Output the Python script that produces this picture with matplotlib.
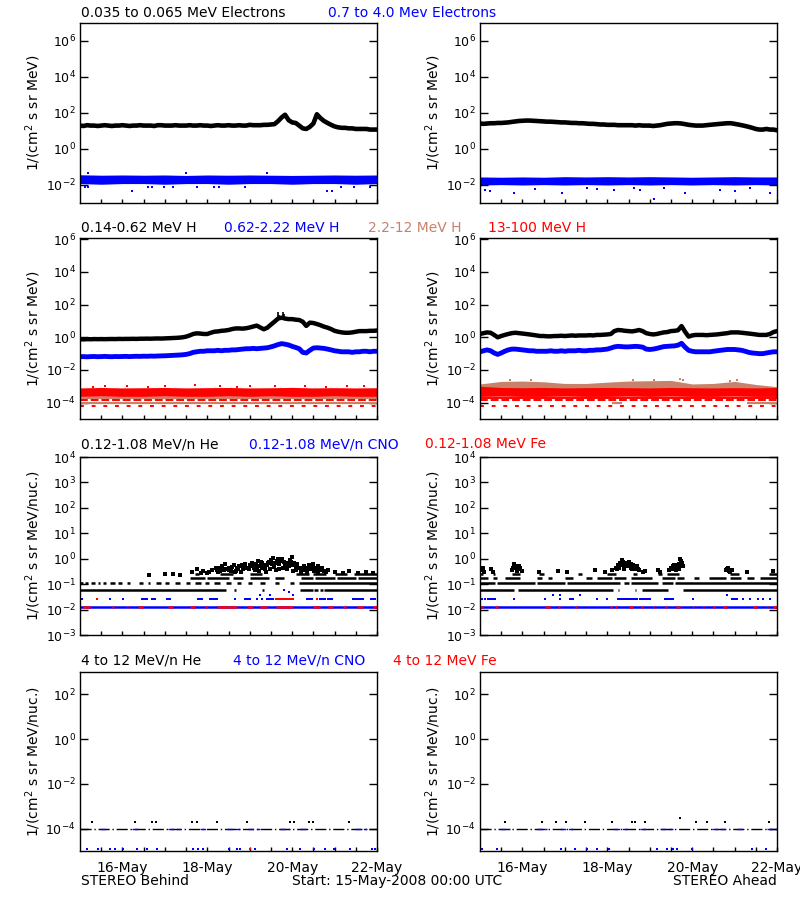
import matplotlib
matplotlib.use("Agg")
import matplotlib.pyplot as plt
from matplotlib.ticker import FixedLocator, FixedFormatter, NullLocator

plt.rcParams['font.family'] = ['DejaVu Sans']
plt.rcParams['mathtext.fontset'] = 'dejavusans'

BLACK = '#000000'
BLUE = '#0000ff'
RED = '#ff0000'
TAN = '#c8826a'

# ---------------- time grids (hours after 15-May-2008 00:00 UTC) ----------------
hours_2h = list(range(0, 169, 2))     # 85 samples
hours_12h = list(range(0, 169, 12))   # 15 samples

# x axis
x_tick_days = [1, 3, 5, 7]
x_tick_labels = ['16-May', '18-May', '20-May', '22-May']
x_minor_days = [0.5 * k for k in range(1, 15)]

# ---------------- Row 1 : electrons ----------------
beh_e_low = [20, 19, 21, 20, 20, 19, 20, 21, 20, 19,
             20, 20, 21, 20, 19, 20, 20, 21, 20, 20,
             20, 19, 21, 21, 20, 20, 20, 21, 20, 20,
             20, 21, 20, 20, 21, 20, 20, 19, 20, 21,
             20, 20, 21, 20, 20, 21, 20, 20, 22, 21,
             21, 21, 22, 22, 23,
             24, 35, 56, 80, 40, 30, 28, 20, 14, 13,
             17, 26, 85, 52, 36, 28, 22, 18, 16, 15,
             15, 14, 14, 13, 13, 13, 13, 12, 12, 12]
ahd_e_low = [26, 25, 26, 27, 27, 28,
             28, 29, 30, 32, 34, 36,
             37, 38, 38, 37, 36, 35,
             34, 33, 33, 32, 31, 30,
             30, 29, 28, 28, 27, 27,
             26, 25, 25, 24, 23, 23,
             22, 22, 22, 21, 21, 21,
             21, 21, 20, 21, 20, 20,
             20, 19, 20, 21, 23, 25,
             26, 27, 27, 26, 24, 22,
             21, 20, 20, 20, 21, 22,
             23, 24, 25, 26, 27, 27,
             25, 23, 21, 19, 17, 15,
             13, 12, 12, 13, 12, 12,
             11]
beh_e_high_lo = [0.012, 0.011, 0.012, 0.012, 0.011, 0.012, 0.012, 0.011,
                 0.012, 0.012, 0.011, 0.012, 0.012, 0.011, 0.012]
beh_e_high_hi = [0.037, 0.035, 0.036, 0.035, 0.036, 0.034, 0.036, 0.035,
                 0.036, 0.035, 0.034, 0.035, 0.036, 0.035, 0.036]
ahd_e_high_lo = [0.010, 0.0105, 0.010, 0.0105, 0.010, 0.0105, 0.010, 0.0105,
                 0.010, 0.0105, 0.010, 0.0105, 0.010, 0.0105, 0.010]
ahd_e_high_hi = [0.028, 0.027, 0.028, 0.027, 0.029, 0.028, 0.029, 0.028,
                 0.029, 0.028, 0.027, 0.028, 0.029, 0.028, 0.028]
beh_e_high_out_t = [0.12, 0.2, 1.22, 1.61, 1.69, 1.97, 2.2, 2.75, 3.15, 3.27,
                    3.89, 5.82, 5.94, 6.14, 6.45, 6.84, 0.18, 2.5, 4.4]
beh_e_high_out_v = [0.0078, 0.0078, 0.0045, 0.0078, 0.0078, 0.0078, 0.0078,
                    0.0078, 0.0078, 0.0078, 0.0078, 0.0045, 0.0045, 0.0078,
                    0.0078, 0.0078, 0.047, 0.045, 0.044]
ahd_e_high_out_t = [0.12, 0.24, 0.79, 1.3, 1.93, 2.52, 2.75, 3.15, 3.62, 3.78,
                    4.09, 4.33, 4.84, 5.66, 6.02, 6.84, 6.37]
ahd_e_high_out_v = [0.005, 0.0045, 0.0036, 0.0058, 0.0036, 0.0068, 0.0058,
                    0.0055, 0.0068, 0.0055, 0.0017, 0.0068, 0.0036, 0.005,
                    0.0045, 0.0036, 0.0068]

# ---------------- Row 2 : protons ----------------
beh_h1 = [0.76, 0.75, 0.77, 0.76, 0.78, 0.77,
          0.78, 0.77, 0.78, 0.79, 0.78, 0.80,
          0.79, 0.80, 0.80, 0.81, 0.80, 0.82,
          0.82, 0.83, 0.82, 0.84, 0.85, 0.84,
          0.86, 0.88, 0.90, 0.92, 0.95, 1.0,
          1.1, 1.3, 1.6, 1.75, 1.7, 1.6,
          1.6, 1.9, 2.2, 2.3, 2.5, 2.6,
          2.8, 3.2, 3.5, 3.5, 3.4, 3.6,
          4.0, 4.6, 5.2, 4.0, 3.1, 3.9,
          6.0, 9.0, 14, 16, 14, 13,
          13, 12, 11.5, 9, 5, 7.9,
          7.5, 6.5, 5.5, 4.5, 3.9, 3.2,
          2.5, 2.2, 2.0, 1.9, 1.9, 2.0,
          2.2, 2.4, 2.4, 2.4, 2.5, 2.5,
          2.6]
beh_h1_spike_t = [4.66, 4.70, 4.79, 4.81]
beh_h1_spike_base = [12, 12, 14, 14]
beh_h1_spike_top = [35, 22, 38, 25]
beh_h2 = [0.065, 0.066, 0.064, 0.066, 0.067, 0.065,
          0.066, 0.068, 0.066, 0.065, 0.067, 0.066,
          0.067, 0.068, 0.066, 0.068, 0.069, 0.068,
          0.070, 0.069, 0.071, 0.070, 0.072, 0.073,
          0.074, 0.076, 0.078, 0.080, 0.082, 0.085,
          0.09, 0.10, 0.12, 0.13, 0.14, 0.14,
          0.15, 0.15, 0.15, 0.16, 0.15, 0.16,
          0.16, 0.17, 0.17, 0.18, 0.19, 0.20,
          0.20, 0.21, 0.20, 0.21, 0.22, 0.23,
          0.26, 0.30, 0.36, 0.41, 0.38, 0.34,
          0.28, 0.24, 0.20, 0.12, 0.11, 0.16,
          0.22, 0.23, 0.22, 0.21, 0.19, 0.17,
          0.15, 0.14, 0.13, 0.13, 0.13, 0.12,
          0.13, 0.13, 0.14, 0.14, 0.13, 0.14,
          0.14]
beh_h4_lo = [2.4e-4, 2.5e-4, 2.4e-4, 2.4e-4, 2.5e-4, 2.4e-4, 2.4e-4, 2.5e-4,
             2.4e-4, 2.5e-4, 2.4e-4, 2.4e-4, 2.5e-4, 2.4e-4, 2.4e-4]
beh_h4_hi = [8.0e-4, 8.5e-4, 8.0e-4, 8.2e-4, 8.5e-4, 8.0e-4, 8.3e-4, 8.5e-4,
             8.0e-4, 8.2e-4, 8.6e-4, 8.0e-4, 8.3e-4, 8.0e-4, 8.2e-4]
beh_h4_out_t = [0.6, 1.1, 2.0, 2.7, 3.3, 4.0, 4.6, 5.3, 6.3, 6.7, 0.3, 1.6, 3.7, 5.8]
beh_h4_out_v = [1.05e-3, 1.0e-3, 1.1e-3, 1.2e-3, 1.0e-3, 1.05e-3, 1.1e-3,
                1.0e-3, 1.05e-3, 1.0e-3, 9.5e-4, 9.5e-4, 9.5e-4, 9.5e-4]
beh_h3_levels = [1.9e-4, 9.5e-5]
beh_h4_levels = [1.4e-4, 6.6e-5]

ahd_h1 = [1.6, 1.8, 2.0, 1.9, 1.4, 1.0,
          1.2, 1.4, 1.6, 1.8, 1.9, 1.8,
          1.7, 1.6, 1.5, 1.4, 1.3, 1.2,
          1.2, 1.15, 1.15, 1.2, 1.2, 1.25,
          1.2, 1.25, 1.3, 1.25, 1.3, 1.3,
          1.3, 1.35, 1.3, 1.4, 1.4, 1.45,
          1.5, 1.6, 2.4, 2.8, 2.7, 2.5,
          2.4, 2.3, 2.5, 2.8, 2.4, 1.8,
          1.6, 1.5, 1.6, 1.8, 2.0, 2.1,
          2.4, 2.5, 2.7, 4.9, 2.2, 1.1,
          1.3, 1.4, 1.4, 1.4, 1.35, 1.4,
          1.45, 1.5, 1.6, 1.7, 1.8, 2.0,
          2.0, 2.0, 1.9, 1.8, 1.7, 1.6,
          1.5, 1.4, 1.4, 1.4, 1.6, 2.1,
          2.4]
ahd_h2 = [0.13, 0.15, 0.17, 0.15, 0.11, 0.09,
          0.11, 0.14, 0.17, 0.19, 0.19, 0.18,
          0.17, 0.16, 0.15, 0.15, 0.14, 0.14,
          0.14, 0.14, 0.15, 0.14, 0.14, 0.15,
          0.14, 0.15, 0.15, 0.15, 0.16, 0.15,
          0.15, 0.16, 0.16, 0.17, 0.17, 0.18,
          0.19, 0.22, 0.26, 0.28, 0.27, 0.26,
          0.26, 0.27, 0.28, 0.27, 0.25, 0.19,
          0.18, 0.19, 0.21, 0.24, 0.27, 0.28,
          0.29, 0.30, 0.33, 0.43, 0.25, 0.16,
          0.14, 0.13, 0.13, 0.13, 0.13, 0.13,
          0.14, 0.15, 0.16, 0.17, 0.18, 0.18,
          0.18, 0.17, 0.16, 0.14, 0.12, 0.11,
          0.105, 0.10, 0.10, 0.11, 0.12, 0.13,
          0.13]
ahd_h3_lo = [5e-4] * 15
ahd_h3_hi = [1.4e-3, 2.0e-3, 2.1e-3, 1.9e-3, 1.5e-3, 1.5e-3, 1.8e-3, 2.1e-3,
             2.2e-3, 2.3e-3, 1.4e-3, 1.5e-3, 2.0e-3, 1.3e-3, 9.5e-4]
ahd_h3_out_t = [0.7, 1.2, 3.6, 4.1, 4.72, 4.78, 5.9, 6.05]
ahd_h3_out_v = [2.3e-3, 2.4e-3, 2.4e-3, 2.5e-3, 2.8e-3, 2.6e-3, 2.2e-3, 2.3e-3]
ahd_h4_lo = [2.4e-4, 2.5e-4, 2.4e-4, 2.4e-4, 2.5e-4, 2.4e-4, 2.4e-4, 2.5e-4,
             2.4e-4, 2.5e-4, 2.4e-4, 2.4e-4, 2.5e-4, 2.4e-4, 2.4e-4]
ahd_h4_hi = [1.0e-3, 8.5e-4, 8.2e-4, 8.5e-4, 8.0e-4, 8.3e-4, 8.5e-4, 8.2e-4,
             8.0e-4, 8.5e-4, 8.2e-4, 8.0e-4, 8.3e-4, 8.0e-4, 8.5e-4]
ahd_h3_levels = [9.5e-5]
ahd_h3_level_spans = [(3.1, 3.35), (6.3, 7.0)]
ahd_h4_levels = [1.9e-4, 1.4e-4, 6.6e-5]

# ---------------- Row 3 : 0.12-1.08 MeV/n ions ----------------
he_levels = [0.058, 0.107, 0.17, 0.24]
beh_he_segments = [
    [(0, 3.43), (3.63, 3.67), (4.3, 4.34), (5.18, 5.48), (5.52, 5.62), (5.66, 5.72), (5.76, 7.0)],
    [(0, 0.08), (0.12, 0.2), (0.25, 0.36), (0.42, 0.48), (0.55, 0.62), (0.7, 0.82), (0.9, 0.98),
     (1.1, 1.18), (1.4, 1.48), (1.6, 1.66), (1.78, 1.9), (2.0, 2.1), (2.25, 2.35), (2.5, 2.6),
     (2.7, 2.85), (2.95, 3.05), (3.15, 3.3), (3.45, 3.55), (3.7, 3.8), (3.95, 4.05), (4.25, 4.35),
     (4.6, 4.7), (4.95, 5.05), (5.15, 7.0)],
    [(2.6, 2.95), (3.0, 3.5), (3.6, 3.85), (4.0, 4.45), (4.6, 4.8), (5.2, 5.5), (5.55, 6.0),
     (6.05, 6.5), (6.55, 7.0)],
    [(1.6, 1.65), (1.95, 2.0), (2.3, 2.35), (2.7, 2.8), (3.3, 3.6), (4.0, 4.3), (5.1, 5.4),
     (5.5, 5.8), (6.0, 6.3), (6.45, 7.0)],
]
ahd_he_segments = [
    [(0, 0.79), (0.9, 3.14), (3.26, 3.28), (3.65, 3.67), (3.81, 4.44), (4.79, 7.0)],
    [(0, 0.35), (0.4, 1.3), (1.35, 2.0), (2.05, 3.3), (3.4, 3.5), (3.55, 4.2), (4.3, 4.55), (4.6, 7.0)],
    [(0, 0.2), (0.3, 0.4), (0.6, 0.95), (1.35, 1.45), (1.6, 1.7), (2.0, 2.2), (2.5, 2.65),
     (2.75, 3.1), (3.15, 3.45), (3.55, 4.05), (4.3, 4.6), (4.65, 4.8), (5.05, 5.15), (5.4, 5.8),
     (5.9, 6.15), (6.3, 6.45), (6.6, 7.0)],
    [(0, 0.08), (0.3, 0.35), (0.75, 0.95), (1.4, 1.5), (2.3, 2.4), (3.0, 3.2), (3.6, 3.7),
     (4.2, 4.3), (4.4, 4.7), (5.9, 6.1), (6.8, 7.0)],
]
beh_he_scatter_t = [1.62, 2.0, 2.2, 2.35, 2.65, 2.75, 2.9, 3.0, 3.1,
                    3.2, 3.25, 3.35, 3.4, 3.5, 3.55, 3.62, 3.7, 3.75, 3.85, 3.9,
                    4.0, 4.05, 4.1, 4.15, 4.2, 4.25, 4.3, 4.35, 4.4, 4.45, 4.5, 4.55, 4.6, 4.65, 4.7,
                    4.75, 4.8, 4.85, 4.9, 4.95, 5.0, 5.05, 5.1, 5.15, 5.25, 5.3,
                    5.4, 5.45, 5.5, 5.55, 5.6, 5.65, 5.7, 5.8, 5.85,
                    6.0, 6.2, 6.35, 6.55, 6.75, 6.9,
                    3.3, 3.45, 3.8, 3.95, 4.12, 4.28, 4.38, 4.48, 4.58, 4.68, 4.78, 4.88, 4.98,
                    5.08, 5.2, 5.35, 5.52, 5.62, 3.05, 2.85, 3.65, 4.22, 4.62, 5.02,
                    3.22, 3.28, 3.36, 3.42, 3.52, 3.58, 3.68, 3.72, 3.82, 3.88,
                    3.98, 4.02, 4.08, 4.18, 4.26, 4.32, 4.42, 4.52, 4.57, 4.66,
                    4.72, 4.82, 4.92, 4.97, 5.07, 5.12, 5.22, 5.28, 5.38, 5.42,
                    5.48, 5.58, 5.68, 5.75]
beh_he_scatter_v = [0.22, 0.24, 0.24, 0.22, 0.30, 0.38, 0.32, 0.28, 0.35,
                    0.42, 0.30, 0.50, 0.35, 0.45, 0.32, 0.55, 0.40, 0.50, 0.38, 0.60,
                    0.55, 0.70, 0.45, 0.60, 0.80, 0.50, 0.65, 0.40, 0.55, 0.75, 0.90, 1.10, 0.70, 0.85, 0.60,
                    1.00, 0.75, 0.55, 0.65, 0.90, 1.20, 0.70, 0.50, 0.45, 0.35, 0.40,
                    0.55, 0.45, 0.60, 0.40, 0.50, 0.35, 0.45, 0.30, 0.35,
                    0.30, 0.28, 0.32, 0.28, 0.30, 0.28,
                    0.33, 0.40, 0.30, 0.42, 0.35, 0.42, 0.30, 0.38, 0.48, 0.40, 0.45, 0.38, 0.55,
                    0.36, 0.30, 0.30, 0.32, 0.30, 0.30, 0.28, 0.30, 0.33, 0.36, 0.33,
                    0.36, 0.45, 0.38, 0.62, 0.36, 0.48, 0.33, 0.42, 0.55, 0.45,
                    0.38, 0.50, 0.62, 0.48, 0.72, 0.55, 0.65, 0.60, 0.48, 0.95,
                    0.80, 0.62, 0.50, 0.75, 0.55, 0.62, 0.45, 0.50, 0.42, 0.38,
                    0.50, 0.42, 0.38, 0.33]
ahd_he_scatter_t = [0.03, 0.06, 0.1, 0.25, 0.3,
                    0.75, 0.8, 0.82, 0.85, 0.9, 0.95, 1.0,
                    1.4, 1.85, 2.05, 2.7, 2.95,
                    3.1, 3.2, 3.25, 3.3, 3.35, 3.38, 3.42, 3.45, 3.5, 3.55, 3.6, 3.65, 3.7, 3.75, 3.85, 3.9,
                    4.2, 4.25, 4.45, 4.5, 4.55, 4.6, 4.65, 4.7, 4.72, 4.75, 4.78,
                    5.8, 5.85, 5.9, 5.95, 6.3, 6.9,
                    3.28, 3.4, 3.48, 3.58, 3.68, 4.62, 4.68, 0.88,
                    3.22, 3.27, 3.32, 3.36, 3.44, 3.52, 3.57, 3.63, 3.72, 4.52,
                    4.58, 4.64, 4.7, 4.74, 4.76, 0.78, 0.92, 5.82, 5.88]
ahd_he_scatter_v = [0.35, 0.42, 0.30, 0.38, 0.30,
                    0.35, 0.60, 0.45, 0.50, 0.38, 0.42, 0.32,
                    0.30, 0.32, 0.30, 0.35, 0.30,
                    0.35, 0.42, 0.55, 0.70, 0.90, 0.60, 0.50, 0.65, 0.75, 0.45, 0.55, 0.40, 0.50, 0.35, 0.30, 0.32,
                    0.35, 0.30, 0.35, 0.42, 0.50, 0.40, 0.55, 0.45, 0.95, 0.70, 0.50,
                    0.35, 0.42, 0.30, 0.35, 0.30, 0.32,
                    0.45, 0.40, 0.55, 0.38, 0.42, 0.35, 0.40, 0.33,
                    0.38, 0.48, 0.55, 0.75, 0.58, 0.52, 0.62, 0.45, 0.40, 0.38,
                    0.55, 0.48, 0.62, 0.80, 0.55, 0.45, 0.50, 0.38, 0.33]
ion_floor = 0.0123
beh_cno_t = [0.04, 0.71, 1.02, 1.45, 1.49, 1.53, 1.57, 1.69, 1.73, 1.77, 2.04, 2.08, 2.12,
             2.79, 2.83, 2.87, 3.06, 3.1, 3.14, 3.18, 3.22, 3.65, 3.89, 3.93, 3.97, 4.0,
             4.16, 4.28, 4.4, 4.44, 4.48, 4.52, 4.56, 4.71, 4.75, 4.79, 4.83, 5.34, 5.38,
             5.42, 5.46, 5.66, 5.7, 5.74, 5.77, 5.85, 5.89, 5.93, 6.44, 6.48, 6.52, 6.56,
             6.6, 6.64, 6.68, 6.87, 6.91, 6.95, 4.24, 4.48, 5.03, 4.81, 4.93]
beh_cno_v = [0.026] * 58 + [0.038, 0.038, 0.038, 0.06, 0.05]
beh_fe_t = [0.39, 4.63, 4.67, 4.71, 4.75, 4.79, 4.83, 4.87, 4.91, 4.95, 4.99, 5.03, 5.58]
beh_fe_v = [0.026] * 13
beh_fe_floor_segments = [(0.08, 0.24), (0.75, 0.79), (1.1, 1.14), (1.37, 1.49), (2.08, 2.2),
                         (2.59, 2.71), (2.95, 2.99), (3.22, 3.69), (3.93, 4.08), (4.24, 4.4),
                         (4.63, 5.03), (5.5, 5.66), (5.85, 5.97), (6.21, 6.28), (6.52, 6.68),
                         (6.91, 7.0)]
ahd_cno_t = [0.04, 0.12, 0.2, 0.24, 0.28, 0.32, 0.35, 0.79, 1.53, 1.89, 2.12, 2.16, 2.2,
             2.75, 2.99, 3.26, 3.3, 3.34, 3.38, 3.42, 3.46, 3.5, 3.54, 3.58, 3.62, 3.66,
             3.69, 3.77, 3.81, 3.85, 3.89, 3.93, 3.97, 4.0, 4.36, 4.4, 4.44, 4.48, 4.52,
             4.56, 5.03, 5.93, 5.97, 6.01, 6.05, 6.21, 6.36, 6.56, 6.68, 6.84,
             1.73, 1.89, 2.36, 5.81]
ahd_cno_v = [0.026] * 50 + [0.037] * 4
ahd_fe_floor_segments = [(0.0, 0.08), (0.35, 0.43), (1.53, 1.65), (1.85, 1.89), (2.24, 2.28),
                         (3.06, 3.1), (3.18, 3.22), (3.5, 3.61), (3.8, 3.83), (4.08, 4.1),
                         (4.36, 4.4), (4.63, 4.71), (5.02, 5.05), (5.26, 5.29), (5.5, 5.53),
                         (5.73, 5.81), (6.44, 6.52), (6.76, 6.79), (6.91, 7.0)]

# ---------------- Row 4 : 4-12 MeV/n ions ----------------
hi_floor = 1.0e-4
hi_one_count = 2.0e-4
hi_bottom = 1.2e-5
beh_hi_he_t = [0.28, 1.3, 1.7, 1.8, 2.64, 2.75, 3.23, 3.93, 4.96, 5.04, 5.39, 5.5, 6.33]
beh_hi_he_v = [hi_one_count] * 13
beh_hi_cno_floor_segments = [(0.47, 0.63), (1.22, 1.38), (2.08, 2.36), (2.83, 3.02), (3.46, 3.78),
                             (3.97, 4.25), (4.72, 4.96), (5.19, 5.35), (6.49, 6.77)]
beh_hi_cno_t = [0.16, 0.43, 0.71, 0.83, 1.02, 1.34, 1.57, 1.81, 2.67, 2.79, 2.91, 3.5, 3.7,
                3.78, 4.13, 4.88, 5.19, 5.51, 5.78, 5.98, 6.37, 6.88, 6.96]
beh_hi_cno_v = [hi_bottom] * 23
beh_hi_fe_t = [4.01]
beh_hi_fe_v = [hi_bottom]
ahd_hi_he_t = [0.59, 1.46, 1.79, 2.02, 2.48, 3.11, 3.58, 3.66, 3.89, 4.72, 5.1, 5.35, 5.78, 6.8]
ahd_hi_he_v = [2e-4, 2e-4, 2e-4, 2e-4, 2e-4, 2e-4, 2e-4, 2e-4, 2e-4, 3e-4, 2e-4, 2e-4, 2e-4, 2e-4]
ahd_hi_cno_floor_segments = [(0.47, 0.71), (1.34, 1.57), (1.89, 2.2), (3.15, 3.46), (3.78, 3.93),
                             (4.25, 4.56), (5.47, 5.78), (6.06, 6.21), (6.77, 7.0)]
ahd_hi_cno_t = [0.04, 0.39, 1.91, 2.23, 2.52, 2.75, 3.03, 4.17, 4.41, 4.56, 4.64, 5.0, 6.41, 6.73]
ahd_hi_cno_v = [hi_bottom] * 14

# ---------------- axis definitions ----------------
row_ylims = [(1e-3, 1e7), (1e-5, 1.2e6), (1e-3, 1e4), (1e-5, 1e3)]
row_ytick_exps = [[-2, 0, 2, 4, 6], [-4, -2, 0, 2, 4, 6], [-3, -2, -1, 0, 1, 2, 3, 4], [-4, -2, 0, 2]]
row_ylabels = [r'1/(cm$^2$ s sr MeV)', r'1/(cm$^2$ s sr MeV)',
               r'1/(cm$^2$ s sr MeV/nuc.)', r'1/(cm$^2$ s sr MeV/nuc.)']
row_titles = [
    [('0.035 to 0.065 MeV Electrons', 81, BLACK), ('0.7 to 4.0 Mev Electrons', 328, BLUE)],
    [('0.14-0.62 MeV H', 81, BLACK), ('0.62-2.22 MeV H', 224, BLUE),
     ('2.2-12 MeV H', 368, TAN), ('13-100 MeV H', 488, RED)],
    [('0.12-1.08 MeV/n He', 81, BLACK), ('0.12-1.08 MeV/n CNO', 249, BLUE),
     ('0.12-1.08 MeV Fe', 425, RED)],
    [('4 to 12 MeV/n He', 81, BLACK), ('4 to 12 MeV/n CNO', 233, BLUE),
     ('4 to 12 MeV Fe', 393, RED)],
]
row_title_y = [13, 228, 444, 661]

W, H = 800, 900
fig = plt.figure(figsize=(8, 9), dpi=100)
col_left_px = [80, 480]
ax_w_px = 297
row_box_px = [(23, 203), (238, 419), (457, 635), (672, 851)]

axes = []
for r in range(4):
    row = []
    top, bot = row_box_px[r]
    for c in range(2):
        ax = fig.add_axes([col_left_px[c] / W, 1 - bot / H, ax_w_px / W, (bot - top) / H])
        ax.set_yscale('log')
        ax.set_xlim(0, 7)
        ax.set_ylim(*row_ylims[r])
        ax.yaxis.set_major_locator(FixedLocator([10.0 ** e for e in row_ytick_exps[r]]))
        ax.yaxis.set_major_formatter(FixedFormatter([r'$10^{%d}$' % e for e in row_ytick_exps[r]]))
        ax.yaxis.set_minor_locator(NullLocator())
        ax.tick_params(axis='y', which='major', direction='in', length=5.5, width=1,
                       left=True, right=True, labelsize=9, pad=3)
        ax.xaxis.set_major_locator(FixedLocator(x_tick_days))
        ax.xaxis.set_minor_locator(FixedLocator(x_minor_days))
        if r == 3:
            ax.xaxis.set_major_formatter(FixedFormatter(x_tick_labels))
        else:
            ax.xaxis.set_major_formatter(FixedFormatter([''] * len(x_tick_days)))
        ax.tick_params(axis='x', which='both', direction='in', length=3, width=1,
                       top=False, bottom=True, labelsize=10, pad=7)
        for s in ax.spines.values():
            s.set_linewidth(1)
        fig.text((col_left_px[c] - 47) / W, 1 - (top + bot) / 2 / H, row_ylabels[r],
                 rotation=90, ha='center', va='center', fontsize=10)
        row.append(ax)
    axes.append(row)

d2 = [h / 24 for h in hours_2h]
d12 = [h / 24 for h in hours_12h]

# Row 1
ax = axes[0][0]
ax.fill_between(d12, beh_e_high_lo, beh_e_high_hi, color=BLUE, lw=0)
ax.plot(beh_e_high_out_t, beh_e_high_out_v, 's', color=BLUE, ms=1.8, mew=0)
ax.plot(d2, beh_e_low, color=BLACK, lw=3.3)
ax = axes[0][1]
ax.fill_between(d12, ahd_e_high_lo, ahd_e_high_hi, color=BLUE, lw=0)
ax.plot(ahd_e_high_out_t, ahd_e_high_out_v, 's', color=BLUE, ms=1.8, mew=0)
ax.plot(d2, ahd_e_low, color=BLACK, lw=3.3)

# Row 2
ax = axes[1][0]
for lv in beh_h3_levels:
    ax.axhline(lv, color=TAN, lw=1.6)
ax.axhline(beh_h4_levels[0], color=RED, lw=1.4, ls=(0, (4, 1.5)))
ax.axhline(beh_h4_levels[1], color=RED, lw=1.4, ls=(0, (2, 4)))
ax.fill_between(d12, beh_h4_lo, beh_h4_hi, color=RED, lw=0)
ax.plot(beh_h4_out_t, beh_h4_out_v, 's', color=RED, ms=1.8, mew=0)
ax.plot(d2, beh_h2, color=BLUE, lw=3.5)
ax.plot(d2, beh_h1, color=BLACK, lw=3.2)
ax.vlines(beh_h1_spike_t, beh_h1_spike_base, beh_h1_spike_top, color=BLACK, lw=1.2)

ax = axes[1][1]
for (a, b) in ahd_h3_level_spans:
    ax.hlines(ahd_h3_levels[0], a, b, color=TAN, lw=1.6)
ax.axhline(ahd_h4_levels[0], color=RED, lw=1.4)
ax.axhline(ahd_h4_levels[1], color=RED, lw=1.4, ls=(0, (4, 1.5)))
ax.axhline(ahd_h4_levels[2], color=RED, lw=1.4, ls=(0, (2, 4)))
ax.fill_between(d12, ahd_h3_lo, ahd_h3_hi, color=TAN, lw=0)
ax.plot(ahd_h3_out_t, ahd_h3_out_v, 's', color=TAN, ms=2.0, mew=0)
ax.fill_between(d12, ahd_h4_lo, ahd_h4_hi, color=RED, lw=0)
ax.plot(d2, ahd_h2, color=BLUE, lw=3.5)
ax.plot(d2, ahd_h1, color=BLACK, lw=3.2)

# Row 3
for c, (segs_all, sc_t, sc_v, cno_t, cno_v, fe_segs) in enumerate([
        (beh_he_segments, beh_he_scatter_t, beh_he_scatter_v, beh_cno_t, beh_cno_v, beh_fe_floor_segments),
        (ahd_he_segments, ahd_he_scatter_t, ahd_he_scatter_v, ahd_cno_t, ahd_cno_v, ahd_fe_floor_segments)]):
    ax = axes[2][c]
    for lv, segs in zip(he_levels, segs_all):
        ax.hlines([lv] * len(segs), [s[0] for s in segs], [s[1] for s in segs], color=BLACK, lw=1.8)
    ax.plot(sc_t, sc_v, 's', color=BLACK, ms=2.2, mew=0)
    ax.hlines(ion_floor, 0, 7, color=BLUE, lw=1.8)
    ax.hlines([ion_floor] * len(fe_segs), [s[0] for s in fe_segs], [s[1] for s in fe_segs],
              color=RED, lw=1.8)
    ax.plot(cno_t, cno_v, 's', color=BLUE, ms=2.0, mew=0)
axes[2][0].plot(beh_fe_t, beh_fe_v, 's', color=RED, ms=2.0, mew=0)

# Row 4
for c, (he_t, he_v, cno_segs, cno_t, cno_v) in enumerate([
        (beh_hi_he_t, beh_hi_he_v, beh_hi_cno_floor_segments, beh_hi_cno_t, beh_hi_cno_v),
        (ahd_hi_he_t, ahd_hi_he_v, ahd_hi_cno_floor_segments, ahd_hi_cno_t, ahd_hi_cno_v)]):
    ax = axes[3][c]
    ax.hlines(hi_floor, 0, 7, color=BLACK, lw=1.0, linestyles=[(0, (8, 2, 1, 2))])
    ax.hlines([hi_floor] * len(cno_segs), [s[0] for s in cno_segs], [s[1] for s in cno_segs],
              color=BLUE, lw=1.0, linestyles=[(0, (4, 2))])
    ax.plot(he_t, he_v, 's', color=BLACK, ms=1.8, mew=0)
    ax.plot(cno_t, cno_v, 's', color=BLUE, ms=1.8, mew=0, clip_on=False)
axes[3][0].plot(beh_hi_fe_t, beh_hi_fe_v, 's', color=RED, ms=1.8, mew=0, clip_on=False)

# Titles
for r in range(4):
    for (txt, xpx, col) in row_titles[r]:
        fig.text(xpx / W, 1 - row_title_y[r] / H, txt, color=col, ha='left', va='center', fontsize=10)

# Footer
fig.text(81 / W, 1 - 881 / H, 'STEREO Behind', ha='left', va='center', fontsize=10)
fig.text(292 / W, 1 - 881 / H, 'Start: 15-May-2008 00:00 UTC', ha='left', va='center', fontsize=10)
fig.text(777 / W, 1 - 881 / H, 'STEREO Ahead', ha='right', va='center', fontsize=10)

fig.savefig('out.png', dpi=100, facecolor='white')
